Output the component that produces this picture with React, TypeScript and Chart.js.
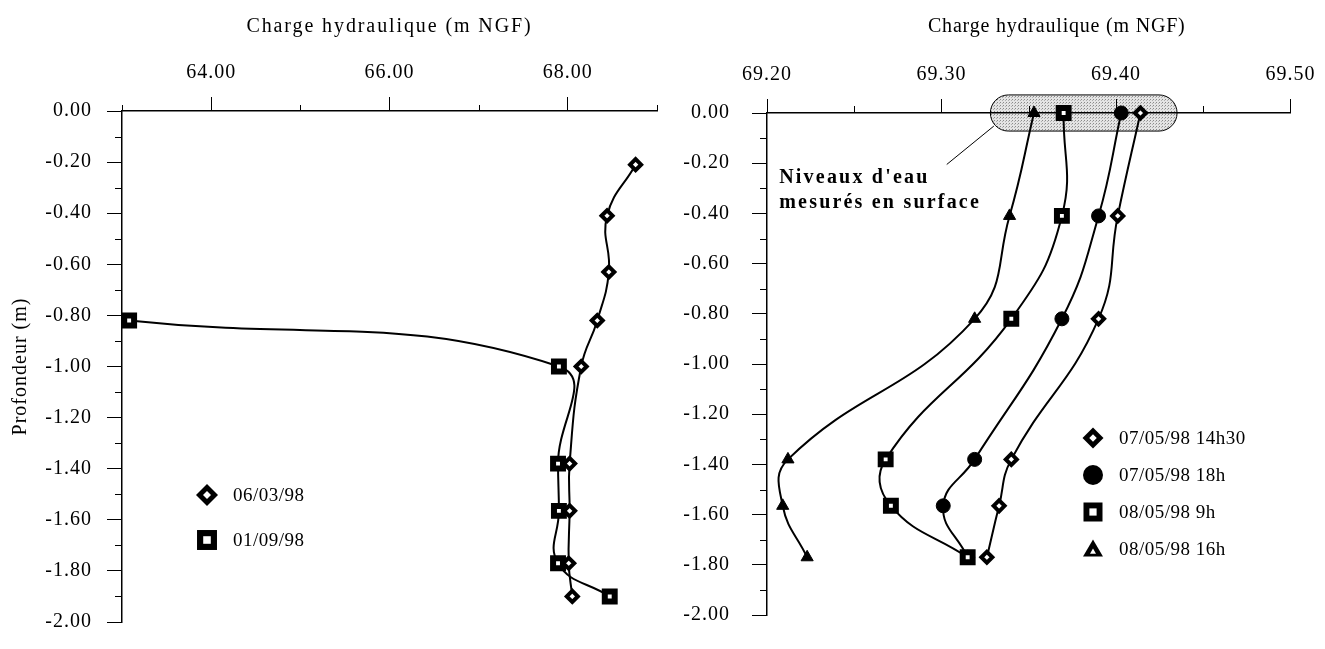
import React, { useEffect, useRef } from 'react';
import { Chart, registerables } from 'chart.js';

Chart.register(...registerables);

const FONT = '"Liberation Serif", "Times New Roman", serif';

// ---------------- Left panel data ----------------
const leftLabels = ['06/03/98', '01/09/98'];
const depth0603 = [-0.21, -0.41, -0.63, -0.82, -1.0, -1.38, -1.565, -1.77, -1.9];
const head0603 = [68.76, 68.44, 68.46, 68.33, 68.15, 68.02, 68.02, 68.01, 68.05];
const depth0109 = [-0.82, -1.0, -1.38, -1.565, -1.77, -1.9];
const head0109 = [63.08, 67.9, 67.89, 67.9, 67.89, 68.47];
const leftXTicks = [64, 66, 68];
const leftXMinorTicks = [63, 65, 67, 69];

// ---------------- Right panel data ----------------
const rightLabels = ['07/05/98 14h30', '07/05/98 18h', '08/05/98 9h', '08/05/98 16h'];
const rightDepths = [0, -0.41, -0.82, -1.38, -1.565, -1.77];
const head0705_1430 = [69.414, 69.401, 69.39, 69.34, 69.333, 69.326];
const head0705_18 = [69.403, 69.39, 69.369, 69.319, 69.301, 69.315];
const head0805_9 = [69.37, 69.369, 69.34, 69.268, 69.271, 69.315];
const head0805_16 = [69.353, 69.339, 69.319, 69.212, 69.209, 69.223];
const rightXMinorTicks = [69.25, 69.35, 69.45];

const depthMinorTicks = [-0.1, -0.3, -0.5, -0.7, -0.9, -1.1, -1.3, -1.5, -1.7, -1.9];

const xTitle = 'Charge hydraulique (m NGF)';
const yTitle = 'Profondeur (m)';
const noteLines = ["Niveaux d'eau", 'mesurés en surface'];
// annotation (data space)
const bandX = [69.328, 69.435];
const bandHalfDepth = 0.072;
const leaderFrom = [69.33, -0.052];
const leaderTo = [69.303, -0.205];
const noteX = 69.207;
const noteY = [-0.257, -0.357];

type Marker = 'diamond' | 'circle' | 'square' | 'triangle';

const STYLE: Record<Marker, any> = {
  diamond: { pointStyle: 'rectRot', radius: 5.5, bw: 4, bg: '#fff' },
  square: { pointStyle: 'rect', radius: 7, bw: 6, bg: '#fff' },
  circle: { pointStyle: 'circle', radius: 7, bw: 1, bg: '#000' },
  triangle: { pointStyle: 'triangle', radius: 7, bw: 1, bg: '#000' },
};

function makeDataset(label: string, xs: number[], ys: number[], m: Marker, order: number) {
  const s = STYLE[m];
  return {
    label,
    marker: m,
    data: xs.map((x, i) => ({ x, y: ys[i] })),
    borderColor: '#000',
    borderWidth: 2,
    tension: 0.45,
    fill: false,
    clip: false,
    pointStyle: s.pointStyle,
    pointRadius: s.radius,
    pointBorderWidth: s.bw,
    pointBackgroundColor: s.bg,
    pointBorderColor: '#000',
    order,
  };
}

function drawMarker(ctx: CanvasRenderingContext2D, m: Marker, x: number, y: number, r: number) {
  ctx.save();
  ctx.fillStyle = '#000';
  if (m === 'circle') {
    ctx.beginPath();
    ctx.arc(x, y, r, 0, Math.PI * 2);
    ctx.fill();
  } else if (m === 'diamond') {
    const dia = (rr: number) => {
      ctx.beginPath();
      ctx.moveTo(x, y - rr);
      ctx.lineTo(x + rr, y);
      ctx.lineTo(x, y + rr);
      ctx.lineTo(x - rr, y);
      ctx.closePath();
      ctx.fill();
    };
    dia(r);
    ctx.fillStyle = '#fff';
    dia(r * 0.36);
  } else if (m === 'square') {
    ctx.fillRect(x - r, y - r, 2 * r, 2 * r);
    ctx.fillStyle = '#fff';
    const ri = r * 0.38;
    ctx.fillRect(x - ri, y - ri, 2 * ri, 2 * ri);
  } else {
    const tri = (rr: number) => {
      ctx.beginPath();
      ctx.moveTo(x, y - rr);
      ctx.lineTo(x + rr * 1.05, y + rr * 0.8);
      ctx.lineTo(x - rr * 1.05, y + rr * 0.8);
      ctx.closePath();
      ctx.fill();
    };
    tri(r);
    ctx.fillStyle = '#fff';
    ctx.translate(0, r * 0.25);
    tri(r * 0.3);
  }
  ctx.restore();
}

function drawMinorTicks(chart: any, xMinor: number[], yMinor: number[], xLen: number, yLen: number) {
  const ctx = chart.ctx as CanvasRenderingContext2D;
  const xs = chart.scales.x;
  const ys = chart.scales.y;
  const { top, left } = chart.chartArea;
  ctx.save();
  ctx.strokeStyle = '#000';
  ctx.lineWidth = 1;
  ctx.beginPath();
  xMinor.forEach((v) => {
    const px = Math.round(xs.getPixelForValue(v)) + 0.5;
    ctx.moveTo(px, top);
    ctx.lineTo(px, top - xLen);
  });
  yMinor.forEach((v) => {
    const py = Math.round(ys.getPixelForValue(v)) + 0.5;
    ctx.moveTo(left, py);
    ctx.lineTo(left - yLen, py);
  });
  ctx.stroke();
  ctx.restore();
}

function drawText(ctx: any, text: string, x: number, y: number, font: string, spacing: string, align: CanvasTextAlign = 'center', baseline: CanvasTextBaseline = 'alphabetic') {
  ctx.save();
  ctx.font = font;
  ctx.letterSpacing = spacing;
  ctx.fillStyle = '#000';
  ctx.textAlign = align;
  ctx.textBaseline = baseline;
  ctx.fillText(text, x, y);
  ctx.restore();
}

function drawLegend(chart: any, x: number, y0: number, dy: number, size: number) {
  const ctx = chart.ctx;
  chart.data.datasets
    .slice()
    .sort((a: any, b: any) => a.legendIndex - b.legendIndex)
    .forEach((ds: any, i: number) => {
      const y = y0 + i * dy;
      drawMarker(ctx, ds.marker, x, y, ds.marker === 'circle' ? size : ds.marker === 'diamond' ? size * 1.05 : size * 0.95);
      drawText(ctx, ds.label, x + 26, y + 1, `19px ${FONT}`, '0.5px', 'left', 'middle');
    });
}

function axisTitles(chart: any, titleDx: number, spacing: string) {
  const ctx = chart.ctx;
  const { left, right } = chart.chartArea;
  drawText(ctx, xTitle, (left + right) / 2 + titleDx, 32, `20px ${FONT}`, spacing);
}

function xScale(min: number, max: number, height: number, ticksList: number[] | null, step: number) {
  return {
    type: 'linear',
    position: 'top',
    min,
    max,
    afterBuildTicks: ticksList ? (s: any) => { s.ticks = ticksList.map((v) => ({ value: v })); } : undefined,
    afterFit: (s: any) => { s.height = height; },
    ticks: {
      stepSize: step,
      autoSkip: false,
      maxRotation: 0,
      color: '#000',
      padding: 12,
      font: { family: FONT, size: 20 },
      callback: (v: any) => Number(v).toFixed(2),
    },
    grid: { drawOnChartArea: false, drawTicks: true, tickLength: 14, color: '#000', lineWidth: 1 },
    border: { display: true, color: '#000', width: 1.5 },
  };
}

function yScale(width: number, pad: number) {
  return {
    type: 'linear',
    position: 'left',
    min: -2,
    max: 0,
    afterFit: (s: any) => { s.width = width; },
    ticks: {
      stepSize: 0.2,
      color: '#000',
      padding: pad,
      font: { family: FONT, size: 20 },
      callback: (v: any) => Number(v).toFixed(2),
    },
    grid: { drawOnChartArea: false, drawTicks: true, tickLength: 15, color: '#000', lineWidth: 1 },
    border: { display: true, color: '#000', width: 1.5 },
  };
}

function baseOptions(padding: any, scales: any) {
  return {
    responsive: false,
    animation: false,
    devicePixelRatio: 1,
    events: [],
    layout: { padding },
    plugins: { legend: { display: false }, tooltip: { enabled: false }, title: { display: false } },
    scales,
  };
}

function leftConfig(): any {
  const d1: any = makeDataset(leftLabels[0], head0603, depth0603, 'diamond', 1);
  const d2: any = makeDataset(leftLabels[1], head0109, depth0109, 'square', 0);
  d1.legendIndex = 0;
  d2.legendIndex = 1;
  return {
    type: 'line',
    data: { datasets: [d1, d2] },
    options: baseOptions({ left: 0, top: 0, right: 43, bottom: 16 }, { x: xScale(63, 69, 111, leftXTicks, 1), y: yScale(122, 15) }),
    plugins: [
      {
        id: 'leftDecor',
        beforeDraw(chart: any) {
          chart.ctx.letterSpacing = '1px';
        },
        afterDraw(chart: any) {
          drawMinorTicks(chart, leftXMinorTicks, depthMinorTicks, 6, 7);
          axisTitles(chart, 0, '1.9px');
          const ctx = chart.ctx;
          const { top, bottom } = chart.chartArea;
          ctx.save();
          ctx.translate(21, (top + bottom) / 2);
          ctx.rotate(-Math.PI / 2);
          drawText(ctx, yTitle, 0, 0, `20px ${FONT}`, '1px', 'center', 'middle');
          ctx.restore();
          drawLegend(chart, 207, 495, 45, 10.5);
        },
      },
    ],
  };
}

function makeStipple(): any {
  const c = document.createElement('canvas');
  c.width = 3;
  c.height = 3;
  const g = c.getContext('2d')!;
  g.fillStyle = '#e4e4e4';
  g.fillRect(0, 0, 3, 3);
  g.fillStyle = '#8a8a8a';
  g.fillRect(0, 0, 1, 1);
  g.fillStyle = '#b0b0b0';
  g.fillRect(2, 1, 1, 1);
  return c;
}

function rightConfig(): any {
  const dDia: any = makeDataset(rightLabels[0], head0705_1430, rightDepths, 'diamond', 2);
  const dCir: any = makeDataset(rightLabels[1], head0705_18, rightDepths, 'circle', 1);
  const dSq: any = makeDataset(rightLabels[2], head0805_9, rightDepths, 'square', 0);
  const dTri: any = makeDataset(rightLabels[3], head0805_16, rightDepths, 'triangle', 2);
  dDia.legendIndex = 0;
  dCir.legendIndex = 1;
  dSq.legendIndex = 2;
  dTri.legendIndex = 3;
  return {
    type: 'line',
    data: { datasets: [dDia, dCir, dSq, dTri] },
    options: baseOptions({ left: 0, top: 0, right: 28, bottom: 14 }, { x: xScale(69.2, 69.5, 113, null, 0.1), y: yScale(127, 22) }),
    plugins: [
      {
        id: 'rightDecor',
        beforeDraw(chart: any) {
          const ctx = chart.ctx;
          ctx.letterSpacing = '1px';
          const xs = chart.scales.x;
          const ys = chart.scales.y;
          const x1 = xs.getPixelForValue(bandX[0]);
          const x2 = xs.getPixelForValue(bandX[1]);
          const yc = ys.getPixelForValue(0);
          const h = ys.getPixelForValue(-bandHalfDepth) - yc;
          ctx.save();
          ctx.beginPath();
          ctx.moveTo(x1 + h, yc - h);
          ctx.lineTo(x2 - h, yc - h);
          ctx.arc(x2 - h, yc, h, -Math.PI / 2, Math.PI / 2);
          ctx.lineTo(x1 + h, yc + h);
          ctx.arc(x1 + h, yc, h, Math.PI / 2, (3 * Math.PI) / 2);
          ctx.closePath();
          ctx.fillStyle = ctx.createPattern(makeStipple(), 'repeat');
          ctx.fill();
          ctx.strokeStyle = '#000';
          ctx.lineWidth = 1;
          ctx.stroke();
          ctx.restore();
        },
        afterDraw(chart: any) {
          const ctx = chart.ctx;
          const xs = chart.scales.x;
          const ys = chart.scales.y;
          drawMinorTicks(chart, rightXMinorTicks, depthMinorTicks, 7, 7);
          axisTitles(chart, 28, '0.8px');
          ctx.save();
          ctx.strokeStyle = '#000';
          ctx.lineWidth = 1;
          ctx.beginPath();
          ctx.moveTo(xs.getPixelForValue(leaderFrom[0]), ys.getPixelForValue(leaderFrom[1]));
          ctx.lineTo(xs.getPixelForValue(leaderTo[0]), ys.getPixelForValue(leaderTo[1]));
          ctx.stroke();
          ctx.restore();
          noteLines.forEach((t, i) => {
            drawText(ctx, t, xs.getPixelForValue(noteX), ys.getPixelForValue(noteY[i]), `bold 20px ${FONT}`, '2.2px', 'left', 'middle');
          });
          drawLegend(chart, 453, 438, 37, 10);
        },
      },
    ],
  };
}

export default function App() {
  const leftRef = useRef<HTMLCanvasElement>(null);
  const rightRef = useRef<HTMLCanvasElement>(null);
  useEffect(() => {
    const c1 = new Chart(leftRef.current as HTMLCanvasElement, leftConfig());
    const c2 = new Chart(rightRef.current as HTMLCanvasElement, rightConfig());
    return () => {
      c1.destroy();
      c2.destroy();
    };
  }, []);
  return (
    <div style={{ position: 'fixed', left: 0, top: 0, width: 1325, height: 649, background: '#fff' }}>
      <canvas ref={leftRef} width={700} height={649} style={{ position: 'absolute', left: 0, top: 0, width: 700, height: 649 }} />
      <canvas ref={rightRef} width={685} height={649} style={{ position: 'absolute', left: 640, top: 0, width: 685, height: 649 }} />
    </div>
  );
}
